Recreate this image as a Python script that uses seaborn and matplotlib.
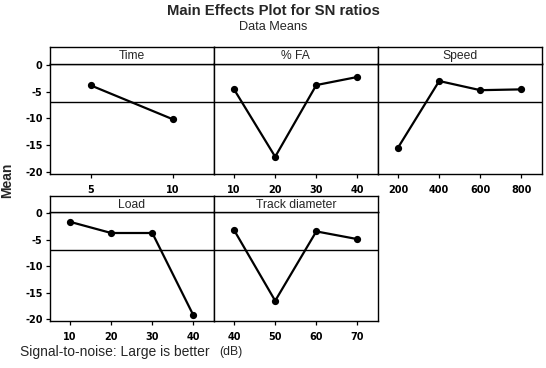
import matplotlib
matplotlib.use("Agg")
import seaborn as sns
import matplotlib.pyplot as plt

# factor levels and mean SN ratios
time_levels = ["5", "10"]
time_sn = [-3.85, -10.15]

fa_levels = ["10", "20", "30", "40"]
fa_sn = [-4.6, -17.1, -3.8, -2.3]

speed_levels = ["200", "400", "600", "800"]
speed_sn = [-15.4, -3.05, -4.75, -4.6]

load_levels = ["10", "20", "30", "40"]
load_sn = [-1.65, -3.75, -3.75, -19.25]

track_levels = ["40", "50", "60", "70"]
track_sn = [-3.2, -16.5, -3.45, -4.9]

grand_mean = -7.0
y_ticks = [0, -5, -10, -15, -20]

panels = [
    ("Time", time_levels, time_sn),
    ("% FA", fa_levels, fa_sn),
    ("Speed", speed_levels, speed_sn),
    ("Load", load_levels, load_sn),
    ("Track diameter", track_levels, track_sn),
]

sns.set_style("white")
plt.rcParams["font.family"] = ["Liberation Sans", "DejaVu Sans"]

W, H = 546, 368
fig = plt.figure(figsize=(W / 100, H / 100), dpi=100)

lefts = [49.5, 213.5, 377.5]
pw = 164.5
rows = [(63.5, 174), (212, 321)]  # axes top, bottom in pixels
strip_h = 16.5

for i, (name, levels, vals) in enumerate(panels):
    r, c = divmod(i, 3)
    top, bot = rows[r]
    ax = fig.add_axes([lefts[c] / W, 1 - bot / H, pw / W, (bot - top) / H])
    sns.pointplot(x=levels, y=vals, color="black", errorbar=None,
                  markers="o", markersize=4, linewidth=1.6, ax=ax)
    ax.axhline(grand_mean, color="black", lw=1)
    ax.set_ylim(-20.3, 0.2)
    ax.set_xlim(-0.5, len(levels) - 0.5)
    ax.set_yticks(y_ticks)
    ax.set_yticklabels([str(t) for t in y_ticks])
    ax.tick_params(axis="both", direction="out", length=3, width=0.9,
                   colors="black", labelsize=7, pad=2,
                   bottom=True, left=True)
    for lab in ax.get_xticklabels() + ax.get_yticklabels():
        lab.set_fontweight("bold")
        lab.set_family("DejaVu Sans")
    ax.tick_params(axis="x", pad=5)
    if c != 0:
        ax.tick_params(axis="y", left=False, labelleft=False)
    ax.set_xlabel("")
    ax.set_ylabel("")
    for s in ax.spines.values():
        s.set_color("black")
        s.set_linewidth(1)

    # title strip
    sax = fig.add_axes([lefts[c] / W, 1 - top / H, pw / W, strip_h / H])
    sax.set_xticks([])
    sax.set_yticks([])
    for s in sax.spines.values():
        s.set_color("black")
        s.set_linewidth(1)
    sax.text(0.5, 0.45, name, ha="center", va="center", fontsize=8.7,
             transform=sax.transAxes)

fig.text(0.5, 1 - 11 / H, "Main Effects Plot for SN ratios", ha="center",
         va="center", fontsize=10.7, fontweight="bold")
fig.text(0.5, 1 - 27 / H, "Data Means", ha="center", va="center", fontsize=9.2)
fig.text(7 / W, 1 - 180 / H, "Mean", ha="center", va="center", rotation=90,
         fontsize=10, fontweight="bold")
fig.text(20 / W, 1 - 352 / H, "Signal-to-noise: Large is better", ha="left",
         va="center", fontsize=10)
fig.text(219 / W, 1 - 352 / H, "(dB)", ha="left", va="center", fontsize=8.7)

fig.savefig("out.png", dpi=100)
